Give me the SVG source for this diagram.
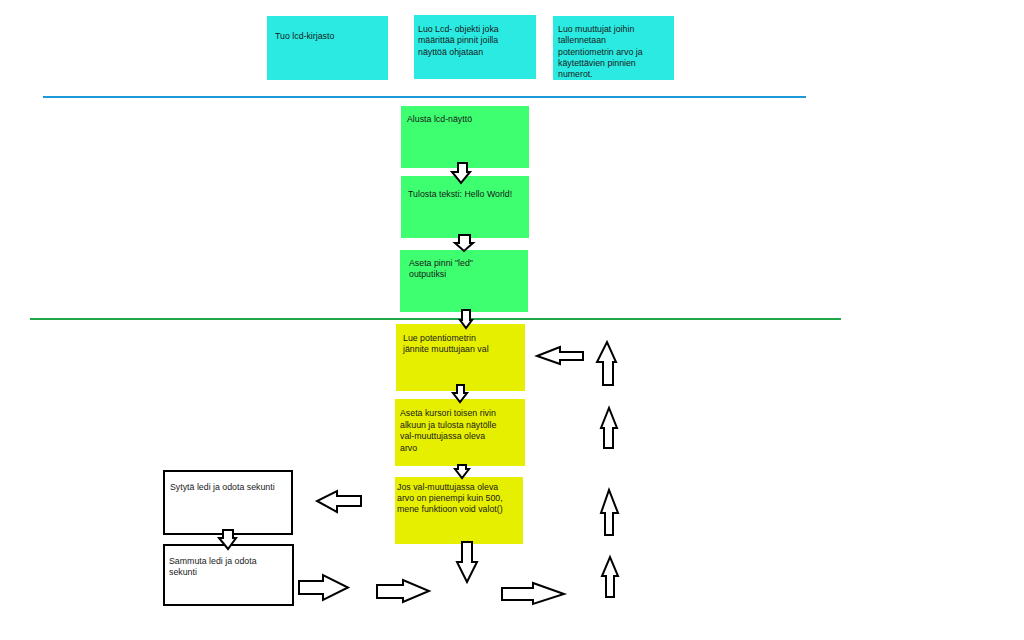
<svg xmlns="http://www.w3.org/2000/svg" width="1024" height="640" viewBox="0 0 1024 640">
<style>
text{font-family:"Liberation Sans",Arial,sans-serif;font-size:8.8px;fill:#1a1a1a}
.teal{fill:#2aeae1}
.green{fill:#3dff6f}
.yellow{fill:#e6ef00}
.white{fill:#fff;stroke:#000;stroke-width:2}
.arr{fill:#fff;stroke:#000;stroke-width:2;stroke-linejoin:miter}
</style>
<rect width="1024" height="640" fill="#fff"/>
<line x1="43" y1="97" x2="806" y2="97" stroke="#1e9ad6" stroke-width="2"/>
<line x1="30" y1="319" x2="841" y2="319" stroke="#1fa64a" stroke-width="2"/>

<g id="n1"><rect class="teal" x="267" y="16" width="121" height="64"/><text x="275" y="38.5">Tuo lcd-kirjasto</text></g>
<g id="n2"><rect class="teal" x="414" y="15" width="122" height="64"/><text x="418" y="31.5">Luo Lcd- objekti joka</text><text x="418" y="43">määrittää pinnit joilla</text><text x="418" y="54.5">näyttöä ohjataan</text></g>
<g id="n3"><rect class="teal" x="553" y="16" width="121" height="64"/><text x="558" y="31.5">Luo muuttujat joihin</text><text x="558" y="43">tallennetaan</text><text x="558" y="54.5">potentiometrin arvo ja</text><text x="558" y="66">käytettävien pinnien</text><text x="558" y="77">numerot.</text></g>

<g id="n4"><rect class="green" x="401" y="106" width="128" height="62"/><text x="407" y="122">Alusta lcd-näyttö</text></g>
<g id="n5"><rect class="green" x="401" y="176" width="128" height="62"/><text x="408" y="197">Tulosta teksti: Hello World!</text></g>
<g id="n6"><rect class="green" x="400" y="250" width="128" height="62"/><text x="409" y="266">Aseta pinni "led"</text><text x="409" y="277">outputiksi</text></g>

<g id="n7"><rect class="yellow" x="396" y="324" width="129" height="67"/><text x="403" y="341">Lue potentiometrin</text><text x="403" y="352">jännite muuttujaan val</text></g>
<g id="n8"><rect class="yellow" x="395" y="399" width="130" height="67"/><text x="400" y="416">Aseta kursori toisen rivin</text><text x="400" y="427.5">alkuun ja tulosta näytölle</text><text x="400" y="439">val-muuttujassa oleva</text><text x="400" y="450.5">arvo</text></g>
<g id="n9"><rect class="yellow" x="395" y="477" width="128" height="67"/><text x="397" y="489.5">Jos val-muuttujassa oleva</text><text x="397" y="500.5">arvo on pienempi kuin 500,</text><text x="397" y="511.5">mene funktioon void valot()</text></g>

<g id="n10"><rect class="white" x="164" y="471" width="128" height="63"/><text x="170" y="489.5">Sytytä ledi ja odota sekunti</text></g>
<g id="n11"><rect class="white" x="164" y="545" width="129" height="60"/><text x="169" y="563.5">Sammuta ledi ja odota</text><text x="169" y="574.5">sekunti</text></g>

<g id="connectors">
<polygon class="arr" points="458,163 467,163 467,172 470,172 461,183 452,172 458,172"/>
<polygon class="arr" points="459,235 470,235 470,243 473,243 464,251 455,243 459,243"/>
<polygon class="arr" points="462,310 470,310 470,320 472,320 466,328 460,320 462,320"/>
<polygon class="arr" points="457,385 464,385 464,393 467,393 460,402 453,393 457,393"/>
<polygon class="arr" points="458,465 466,465 466,469 469,469 462,478 455,469 458,469"/>
<polygon class="arr" points="462,542 472,542 472,562 477,562 467,582 457,562 462,562"/>
<polygon class="arr" points="223,530 233,530 233,538 236,538 228,549 219,538 223,538"/>
<polygon class="arr" points="583,352 583,360 560,360 560,364 537,356 560,347 560,352"/>
<polygon class="arr" points="361,496 361,506 337,506 337,512 317,501 337,491 337,496"/>
<polygon class="arr" points="299,581 323,581 323,575 348,587.5 323,600 323,594 299,594"/>
<polygon class="arr" points="377,585 403,585 403,580 429,591 403,602 403,598 377,598"/>
<polygon class="arr" points="502,588 533,588 533,583 564,594 533,604 533,600 502,600"/>
<polygon class="arr" points="603,385 613,385 613,362 616,362 607,342 597,362 603,362"/>
<polygon class="arr" points="604,448 613,448 613,428 617,428 609,408 601,428 604,428"/>
<polygon class="arr" points="605,535 613,535 613,513 618,513 609,490 601,513 605,513"/>
<polygon class="arr" points="606,597 614,597 614,576 618,576 610,557 602,576 606,576"/>
</g>
</svg>
